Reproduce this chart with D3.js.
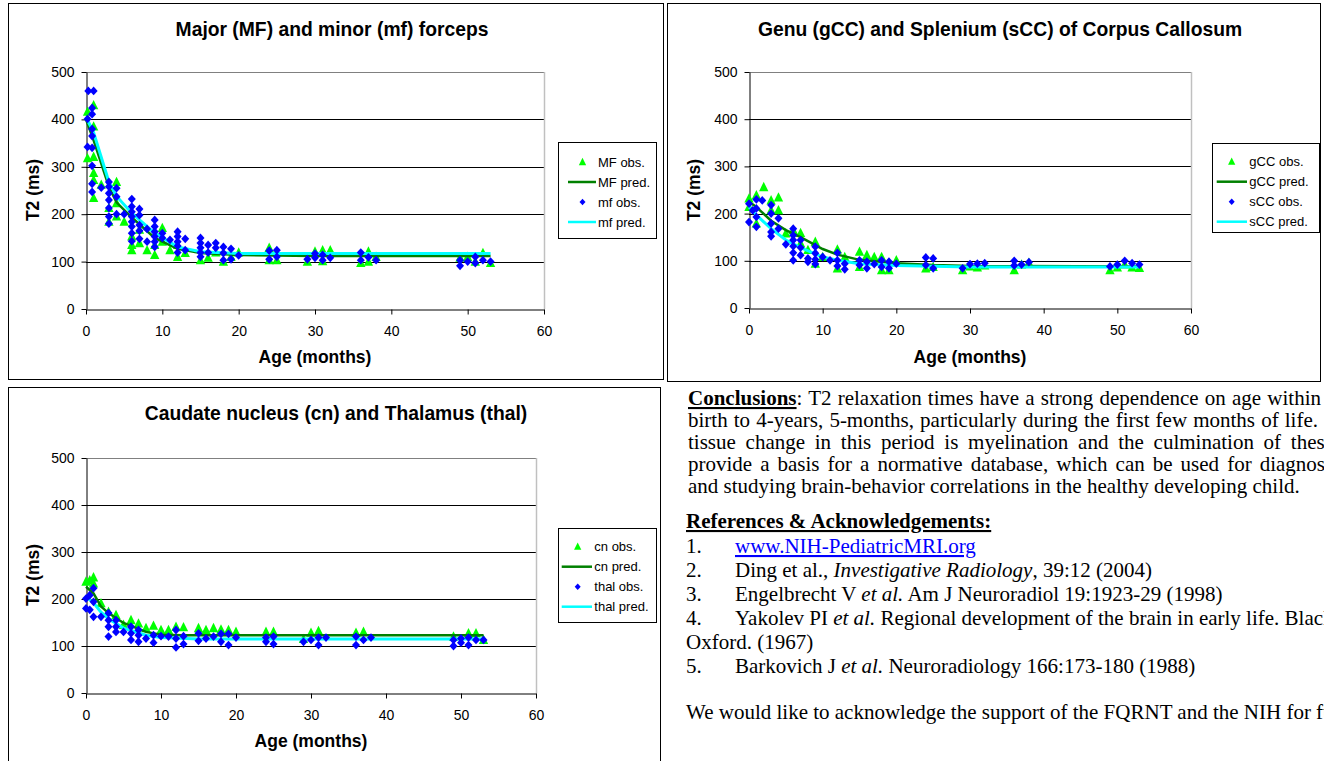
<!DOCTYPE html>
<html><head><meta charset="utf-8">
<script src="https://cdn.jsdelivr.net/npm/d3@7"></script>
<style>
body{margin:0;background:#fff;overflow:hidden}
svg{display:block}
</style></head><body>
<svg id="c" width="1324" height="761"></svg>
<script>
// ---------- axis ticks ----------
const ageTicks=[0,10,20,30,40,50,60];
const t2Ticks=[0,100,200,300,400,500];

// ---------- Panel 1 : Major (MF) / minor (mf) forceps ----------
const MF_obs=[[0.2,416],[0.2,318],[1,430],[1,385],[1,321],[1,287],[1,272],[1,234],[2,262],[3,213],[3,184],[4,268],[4,223],[4,195],[5,184],[6,153],[6,135],[6,124],[7,167],[7,139],[8,124],[9,135],[9,114],[10,171],[10,142],[11,124],[12,135],[12,110],[13,118],[15,103],[16,108],[17,119],[18,100],[19,110],[20,119],[24,129],[24,103],[25,103],[29,100],[30,121],[31,124],[31,101],[32,124],[36,97],[37,121],[37,100],[38,110],[49,108],[50,110],[51,100],[52,118],[53,97]];
const mf_obs=[[0.3,460],[1,460],[0.8,424],[0.8,411],[0.8,380],[0.8,365],[0.8,340],[0.8,302],[0.8,264],[0.8,247],[0.2,401],[0.2,342],[2,256],[3,268],[3,258],[3,244],[3,230],[3,213],[3,195],[3,180],[4,255],[4,237],[4,200],[5,200],[6,232],[6,216],[6,205],[6,195],[6,184],[6,174],[6,160],[6,143],[7,211],[7,198],[7,177],[7,165],[7,148],[8,169],[8,142],[9,188],[9,174],[9,163],[9,153],[9,142],[9,131],[10,160],[10,150],[11,146],[12,163],[12,153],[12,142],[12,133],[12,119],[13,148],[13,124],[15,150],[15,139],[15,129],[15,119],[15,110],[16,135],[16,119],[17,139],[17,129],[18,131],[18,118],[18,103],[19,127],[19,105],[20,113],[24,123],[24,105],[25,124],[25,110],[29,105],[30,117],[30,108],[31,114],[31,103],[32,108],[36,119],[36,103],[37,109],[38,103],[49,103],[49,91],[50,100],[51,110],[51,97],[52,103],[53,100]];
const MF_pred=[[0,400],[1,356],[3,258],[4,225],[6,193],[9,150],[12,127],[15,118],[20,114],[30,112],[53,112]];
const mf_pred=[[0,405],[1,372],[3,268],[4,238],[6,202],[9,160],[12,131],[15,121],[20,117],[30,117],[53,117]];

// ---------- Panel 2 : genu (gCC) / splenium (sCC) ----------
const gCC_obs=[[0,232],[0,214],[1,239],[1,179],[2,256],[3,228],[3,207],[4,234],[4,207],[5,158],[6,165],[7,159],[7,137],[8,123],[9,140],[9,94],[10,108],[12,124],[12,84],[13,108],[15,119],[15,87],[16,112],[17,108],[18,108],[18,80],[19,80],[20,101],[24,84],[25,87],[29,80],[30,88],[31,86],[32,90],[36,80],[37,92],[38,96],[49,80],[50,86],[51,92],[52,86],[53,85]];
const sCC_obs=[[0,221],[0,182],[0.5,207],[1,230],[1,211],[1,193],[1,172],[1.8,228],[3,218],[3,200],[3,179],[3,161],[3,152],[4,190],[4,168],[5,135],[6,168],[6,154],[6,144],[6,131],[6,117],[6,101],[7,144],[7,128],[7,112],[8,105],[8,98],[9,130],[9,116],[9,103],[9,93],[10,108],[11,101],[12,117],[12,101],[12,89],[13,94],[13,82],[15,101],[15,91],[16,98],[16,84],[17,93],[18,101],[18,87],[19,98],[19,84],[20,94],[24,107],[24,91],[25,105],[25,84],[29,84],[30,93],[31,94],[32,95],[36,100],[36,90],[37,92],[38,97],[49,88],[50,92],[51,100],[52,95],[53,92]];
const gCC_pred=[[0,225],[1,214],[3,185],[5,165],[7,150],[10,125],[12,113],[15,102],[20,95],[25,91],[30,89],[53,88]];
const sCC_pred=[[0,214],[1,197],[3,168],[5,144],[7,128],[10,108],[12,101],[15,94],[20,90],[30,87],[53,87]];

// ---------- Panel 3 : caudate nucleus (cn) / thalamus (thal) ----------
const cn_obs=[[0,237],[0.5,240],[1,246],[1,233],[2,191],[3,173],[4,166],[5,145],[6,155],[7,148],[8,138],[9,143],[10,134],[11,134],[12,141],[13,140],[15,138],[16,134],[17,138],[18,135],[19,134],[20,130],[24,130],[25,130],[29,115],[30,128],[31,132],[36,128],[37,130],[49,120],[51,127],[52,127],[53,113]];
const thal_obs=[[0,201],[0,180],[0.5,208],[0.5,177],[1,223],[1,194],[1,162],[2,162],[3,170],[3,155],[3,141],[3,120],[4,155],[4,141],[4,130],[5,130],[6,141],[6,127],[6,113],[7,134],[7,123],[7,109],[8,116],[9,123],[9,107],[10,121],[11,120],[12,134],[12,116],[12,97],[13,121],[13,104],[15,127],[15,111],[16,116],[17,120],[18,126],[18,109],[19,126],[19,102],[20,118],[24,118],[24,109],[25,120],[25,104],[29,109],[30,113],[31,118],[31,102],[32,118],[36,120],[36,102],[37,113],[38,118],[49,113],[49,100],[50,116],[50,107],[51,118],[51,102],[52,113],[53,113]];
const cn_pred=[[0,226],[1,212],[2,184],[3,170],[5,149],[8,130],[10,124],[13,123],[53,123]];
const thal_pred=[[0,205],[1,192],[2,172],[3,158],[5,138],[8,123],[10,118],[15,115],[53,115]];

// ---------- drawing ----------
const svg=d3.select('#c');
const SANS="'Liberation Sans', Arial, sans-serif";
const SERIF="'Liberation Serif', 'Times New Roman', serif";
const GREEN_PT='#00ff00', GREEN_LN='#008000', BLUE='#0000ff', CYAN='#00ffff';

const diamond={draw(ctx,size){const r=Math.sqrt(size/2);ctx.moveTo(0,-r*1.1);ctx.lineTo(r,0);ctx.lineTo(0,r*1.1);ctx.lineTo(-r,0);ctx.closePath();}};
const triangle={draw(ctx,size){const r=Math.sqrt(size/2);ctx.moveTo(0,-r*1.25);ctx.lineTo(r*1.1,r*0.95);ctx.lineTo(-r*1.1,r*0.95);ctx.closePath();}};

const panels=[
 {frame:[8.5,3.5,655,376],xr:[86,544],yr:[309,72],title:'Major (MF) and minor (mf) forceps',tx:332,ty:36,
  ylx:33,yly:190,xly:363,
  obsA:MF_obs,predA:MF_pred,obsB:mf_obs,predB:mf_pred,names:['MF obs.','MF pred.','mf obs.','mf pred.'],
  leg:{x:558,y:142,w:98,h:96,rows:[162,182,202,222],sx:582.5,l1:568,l2:596,tx:598}},
 {frame:[667.5,3.5,653,378],xr:[749,1191],yr:[308,72],title:'Genu (gCC) and Splenium (sCC) of Corpus Callosum',tx:1000,ty:36,
  ylx:694,yly:190,xly:363,
  obsA:gCC_obs,predA:gCC_pred,obsB:sCC_obs,predB:sCC_pred,names:['gCC obs.','gCC pred.','sCC obs.','sCC pred.'],
  leg:{x:1212,y:143,w:107,h:89,rows:[161.7,181.7,201.7,221.7],sx:1231.7,l1:1216.7,l2:1247,tx:1249.3}},
 {frame:[8.5,387.5,652,400],xr:[86,536],yr:[693,458],title:'Caudate nucleus (cn) and Thalamus (thal)',tx:336,ty:420,
  ylx:33,yly:575,xly:747,
  obsA:cn_obs,predA:cn_pred,obsB:thal_obs,predB:thal_pred,names:['cn obs.','cn pred.','thal obs.','thal pred.'],
  leg:{x:558,y:528,w:98,h:94,rows:[546.7,566.7,586.7,606.7],sx:577.7,l1:561.7,l2:592,tx:594.3}}
];

panels.forEach(p=>{
  const g=svg.append('g');
  g.append('rect').attr('x',p.frame[0]).attr('y',p.frame[1]).attr('width',p.frame[2]).attr('height',p.frame[3])
    .attr('fill','#fff').attr('stroke','#000').attr('stroke-width',1);
  const x=d3.scaleLinear().domain([0,60]).range(p.xr);
  const y=d3.scaleLinear().domain([0,500]).range(p.yr);

  g.append('g').selectAll('line').data(t2Ticks.filter(d=>d>0)).join('line')
    .attr('x1',p.xr[0]).attr('x2',p.xr[1])
    .attr('y1',d=>Math.round(y(d))+0.5).attr('y2',d=>Math.round(y(d))+0.5)
    .attr('stroke',d=>d===500?'#808080':'#000').attr('stroke-width',1);
  g.append('line').attr('x1',p.xr[1]+0.5).attr('x2',p.xr[1]+0.5).attr('y1',p.yr[1]).attr('y2',p.yr[0])
    .attr('stroke','#c0c0c0').attr('stroke-width',1.5);

  const yAxis=d3.axisLeft(y).tickValues(t2Ticks).tickSize(5).tickSizeOuter(0).tickPadding(7);
  const xAxis=d3.axisBottom(x).tickValues(ageTicks).tickSize(5).tickSizeOuter(0).tickPadding(12);
  const ga=g.append('g').attr('transform',`translate(${p.xr[0]+0.5},0)`).call(yAxis);
  const gb=g.append('g').attr('transform',`translate(0,${Math.round(p.yr[0])+0.5})`).call(xAxis);
  [ga,gb].forEach(a=>{
    a.selectAll('path').attr('stroke','#000');
    a.selectAll('line').attr('stroke','#000');
    a.selectAll('text').attr('font-family',SANS).attr('font-size','14px').attr('fill','#000');
  });

  g.append('g').selectAll('path').data(p.obsA).join('path')
    .attr('transform',d=>`translate(${x(d[0])},${y(d[1])})`)
    .attr('d',d3.symbol(triangle,36)()).attr('fill',GREEN_PT);
  const line=d3.line().x(d=>x(d[0])).y(d=>y(d[1]));
  g.append('path').datum(p.predA).attr('d',line).attr('fill','none').attr('stroke',GREEN_LN).attr('stroke-width',2.5);
  g.append('path').datum(p.predB).attr('d',line).attr('fill','none').attr('stroke',CYAN).attr('stroke-width',3);
  g.append('g').selectAll('path').data(p.obsB).join('path')
    .attr('transform',d=>`translate(${x(d[0])},${y(d[1])})`)
    .attr('d',d3.symbol(diamond,32)()).attr('fill',BLUE);

  g.append('text').attr('x',p.tx).attr('y',p.ty).attr('text-anchor','middle')
    .attr('font-family',SANS).attr('font-weight','bold').attr('font-size','19.3px').text(p.title);
  g.append('text').attr('x',(p.xr[0]+p.xr[1])/2).attr('y',p.xly).attr('text-anchor','middle')
    .attr('font-family',SANS).attr('font-weight','bold').attr('font-size','17.5px').text('Age (months)');
  g.append('text').attr('transform',`translate(${p.ylx+6},${p.yly}) rotate(-90)`).attr('text-anchor','middle')
    .attr('font-family',SANS).attr('font-weight','bold').attr('font-size','17.5px').text('T2 (ms)');

  const L=p.leg;
  const lg=g.append('g');
  lg.append('rect').attr('x',L.x+0.5).attr('y',L.y+0.5).attr('width',L.w).attr('height',L.h)
    .attr('fill','#fff').attr('stroke','#000').attr('stroke-width',1);
  lg.append('path').attr('transform',`translate(${L.sx},${L.rows[0]})`).attr('d',d3.symbol(triangle,22)()).attr('fill',GREEN_PT);
  lg.append('line').attr('x1',L.l1).attr('x2',L.l2).attr('y1',L.rows[1]).attr('y2',L.rows[1]).attr('stroke',GREEN_LN).attr('stroke-width',2.5);
  lg.append('path').attr('transform',`translate(${L.sx},${L.rows[2]})`).attr('d',d3.symbol(diamond,18)()).attr('fill',BLUE);
  lg.append('line').attr('x1',L.l1).attr('x2',L.l2).attr('y1',L.rows[3]).attr('y2',L.rows[3]).attr('stroke',CYAN).attr('stroke-width',2.5);
  lg.selectAll('text.lt').data(p.names).join('text').attr('class','lt')
    .attr('x',L.tx).attr('y',(d,i)=>L.rows[i]+4.5)
    .attr('font-family',SANS).attr('font-size','13px').text(d=>d);
});

// ---------- text block ----------
const FS=21;
function textLine(x,y,parts,target){
  const t=svg.append('text').attr('x',x).attr('y',y)
    .attr('font-family',SERIF).attr('font-size',FS+'px').attr('fill','#000');
  parts.forEach(p=>{
    const s=t.append('tspan').text(p.t);
    if(p.b) s.attr('font-weight','bold');
    if(p.i) s.attr('font-style','italic');
    if(p.u) s.attr('text-decoration','underline');
    if(p.c) s.attr('fill',p.c);
  });
  if(target){
    const nat=t.node().getComputedTextLength();
    const spaces=parts.map(p=>p.t).join('').split(' ').length-1;
    if(spaces>0 && target>nat) t.attr('word-spacing',(target-nat)/spaces);
  }
  return t;
}
const CX=688;
textLine(CX,405,[{t:'Conclusions',b:1,u:1},{t:': T2 relaxation times have a strong dependence on age within'}],1321-CX);
textLine(CX,427,[{t:'birth to 4-years, 5-months, particularly during the first few months of life.'}],1318-CX);
textLine(CX,449,[{t:'tissue change in this period is myelination and the culmination of these'}],1334-CX);
textLine(CX,471,[{t:'provide a basis for a normative database, which can be used for diagnosis'}],1339-CX);
textLine(CX,493,[{t:'and studying brain-behavior correlations in the healthy developing child.'}]);
textLine(686,528,[{t:'References & Acknowledgements:',b:1,u:1}]);
const refs=[
 [{t:'www.NIH-PediatricMRI.org',u:1,c:'#0000ff'}],
 [{t:'Ding et al., '},{t:'Investigative Radiology',i:1},{t:', 39:12 (2004)'}],
 [{t:'Engelbrecht V '},{t:'et al.',i:1},{t:' Am J Neuroradiol 19:1923-29 (1998)'}],
 [{t:'Yakolev PI '},{t:'et al.',i:1},{t:' Regional development of the brain in early life. Blackwell,'}],
 null,
 [{t:'Barkovich J '},{t:'et al.',i:1},{t:' Neuroradiology 166:173-180 (1988)'}]
];
const refY=[553,577,601,625,649,673];
let n=1;
refs.forEach((r,i)=>{
  if(r){ textLine(686,refY[i],[{t:n+'.'}]); textLine(735,refY[i],r); n++; }
  else textLine(686,refY[i],[{t:'Oxford. (1967)'}]);
});
textLine(686,719,[{t:'We would like to acknowledge the support of the FQRNT and the NIH for funding.'}]);
</script>
</body></html>
